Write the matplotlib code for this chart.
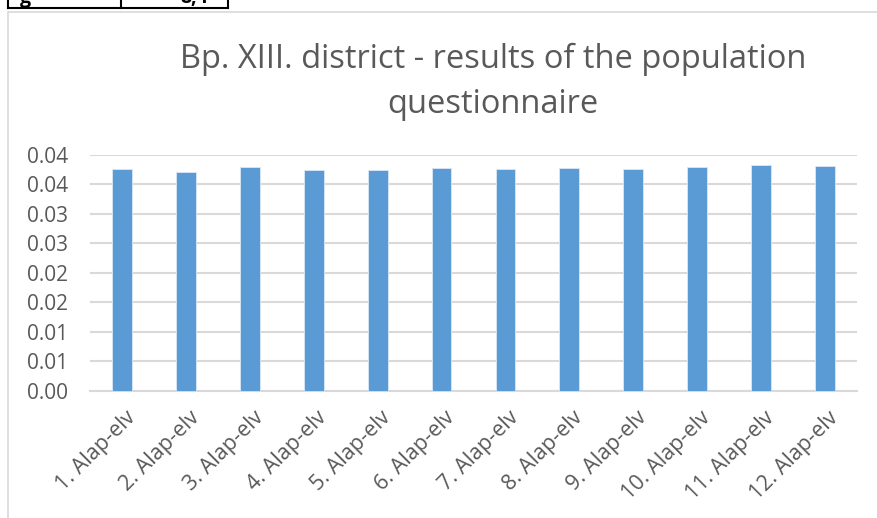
import matplotlib
matplotlib.use("Agg")
import matplotlib.pyplot as plt
from matplotlib.patches import Rectangle
from matplotlib.lines import Line2D
from matplotlib.transforms import ScaledTranslation
import numpy as np

categories = ["1. Alap-elv", "2. Alap-elv", "3. Alap-elv", "4. Alap-elv", "5. Alap-elv",
              "6. Alap-elv", "7. Alap-elv", "8. Alap-elv", "9. Alap-elv", "10. Alap-elv",
              "11. Alap-elv", "12. Alap-elv"]
values = [0.03763, 0.03712, 0.03786, 0.03746, 0.03735, 0.03769,
          0.03763, 0.03769, 0.03758, 0.03792, 0.03821, 0.03804]
y_ticks = [0.0, 0.005, 0.01, 0.015, 0.02, 0.025, 0.03, 0.035, 0.04]
y_tick_labels = ["0.00", "0.01", "0.01", "0.02", "0.02", "0.03", "0.03", "0.04", "0.04"]
title = "Bp. XIII. district - results of the population\nquestionnaire"

W, H = 878, 518
fig = plt.figure(figsize=(W / 100, H / 100), dpi=100)
plt.rcParams['font.family'] = ['Open Sans', 'DejaVu Sans']

# chart frame
fig.add_artist(Rectangle((8 / W, -0.05), 1.0, (H - 12) / H + 0.05, transform=fig.transFigure,
                         fill=False, edgecolor="#d9d9d9", linewidth=1.2))
# table fragment on top
for x in [8, 121, 228]:
    fig.add_artist(Line2D([x / W, x / W], [1.0, (H - 8) / H], transform=fig.transFigure,
                          color="black", linewidth=1.5))
fig.add_artist(Line2D([8 / W, 228 / W], [(H - 8) / H, (H - 8) / H], transform=fig.transFigure,
                      color="black", linewidth=1.5))
fig.text(20 / W, (H - 3) / H, "g", fontsize=14, color="black", va="baseline", ha="left", fontweight="bold")
fig.text(180 / W, (H - 3) / H, "8,4", fontsize=14, color="black", va="baseline", ha="left", fontweight="bold")

ax = fig.add_axes([90 / W, (H - 390.7) / H, (857 - 90) / W, (390.7 - 154.7) / H])
x = np.arange(len(categories))
ax.bar(x, values, width=0.31, color="#5B9BD5", edgecolor="#dbe8f5", linewidth=0.6, zorder=3)
ax.set_xlim(-0.5, len(categories) - 0.5)
ax.set_ylim(0, 0.04)
ax.set_yticks(y_ticks)
ax.set_yticklabels(y_tick_labels)
ax.yaxis.grid(True, color="#d9d9d9", linewidth=1.5, zorder=0)
ax.set_axisbelow(True)
for s in ["top", "right", "left"]:
    ax.spines[s].set_visible(False)
ax.spines["bottom"].set_color("#d9d9d9")
ax.spines["bottom"].set_linewidth(1.5)
ax.tick_params(axis="both", length=0, colors="#595959", labelsize=15)
ax.tick_params(axis="y", pad=16)
ax.set_xticks(x)
ax.set_xticklabels(categories, rotation=45, ha="right", rotation_mode="anchor", fontsize=15.5)
ax.tick_params(axis="x", pad=12)
offset = ScaledTranslation(3 / 100, 0, fig.dpi_scale_trans)
for lbl in ax.get_xticklabels():
    lbl.set_transform(lbl.get_transform() + offset)

fig.text(493 / W, (H - 82) / H, title, ha="center", va="center", fontsize=23.5,
         color="#595959", linespacing=1.5)

fig.savefig("out.png", dpi=100)
